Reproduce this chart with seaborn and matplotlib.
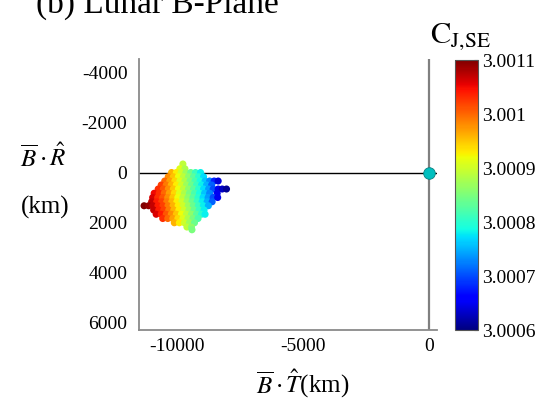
import numpy as np
import pandas as pd
import matplotlib
matplotlib.use('Agg')
import matplotlib.pyplot as plt
import seaborn as sns

# B-plane crossings (km) and Jacobi constant
row_br = [-340, -150, 0, 170, 340, 500, 660, 830, 1000, 1170, 1330, 1500, 1670, 1840, 2010, 2180, 2290]

row_bt = [
    [-9760],
    [-9880, -9680],
    [-10210, -10020, -9830, -9640, -9450, -9260, -9060],
    [-10340, -10140, -9940, -9740, -9540, -9340, -9140, -8940],
    [-10480, -10280, -10080, -9880, -9680, -9480, -9280, -9080, -8880, -8700, -8520, -8360],
    [-10620, -10420, -10220, -10020, -9820, -9620, -9420, -9220, -9020, -8820, -8620],
    [-10740, -10540, -10340, -10140, -9940, -9740, -9540, -9340, -9140, -8940, -8740, -8560, -8360, -8200, -8030],
    [-10900, -10700, -10500, -10300, -10100, -9900, -9700, -9500, -9300, -9100, -8900, -8700, -8400],
    [-10960, -10760, -10560, -10360, -10160, -9960, -9760, -9560, -9360, -9160, -8960, -8760, -8560, -8380],
    [-11000, -10800, -10600, -10400, -10200, -10000, -9800, -9600, -9400, -9200, -9000, -8800, -8600],
    [-11300, -11120, -10950, -10750, -10550, -10350, -10150, -9950, -9750, -9550, -9350, -9150, -8950, -8750],
    [-10920, -10720, -10520, -10320, -10120, -9920, -9720, -9520, -9320, -9120, -8920],
    [-10820, -10620, -10420, -10220, -10020, -9820, -9620, -9420, -9220, -9020, -8880],
    [-10560, -10360, -10160, -9960, -9760, -9560, -9360, -9160],
    [-10100, -9900, -9700, -9500, -9300],
    [-9600, -9420],
    [-9400],
]

row_cj = [
    [3.00089],
    [3.00091, 3.00088],
    [3.00096, 3.00093, 3.00090, 3.00087, 3.00084, 3.00081, 3.00078],
    [3.00098, 3.00095, 3.00092, 3.00089, 3.00086, 3.00083, 3.00080, 3.00077],
    [3.00100, 3.00097, 3.00094, 3.00091, 3.00088, 3.00085, 3.00082, 3.00079, 3.00076, 3.00073, 3.00068, 3.00064],
    [3.00102, 3.00099, 3.00096, 3.00093, 3.00090, 3.00087, 3.00084, 3.00081, 3.00078, 3.00075, 3.00071],
    [3.00103, 3.00101, 3.00098, 3.00095, 3.00092, 3.00089, 3.00086, 3.00083, 3.00080, 3.00077, 3.00074, 3.00070, 3.00065, 3.00063, 3.00061],
    [3.00105, 3.00103, 3.00100, 3.00097, 3.00094, 3.00091, 3.00088, 3.00085, 3.00082, 3.00079, 3.00076, 3.00073, 3.00065],
    [3.00106, 3.00103, 3.00101, 3.00098, 3.00095, 3.00092, 3.00089, 3.00086, 3.00083, 3.00080, 3.00077, 3.00074, 3.00070, 3.00065],
    [3.00107, 3.00104, 3.00102, 3.00099, 3.00096, 3.00093, 3.00090, 3.00087, 3.00084, 3.00081, 3.00078, 3.00075, 3.00071],
    [3.00110, 3.00109, 3.00107, 3.00104, 3.00102, 3.00099, 3.00096, 3.00093, 3.00090, 3.00087, 3.00084, 3.00081, 3.00078, 3.00075],
    [3.00107, 3.00104, 3.00102, 3.00099, 3.00096, 3.00093, 3.00090, 3.00087, 3.00084, 3.00081, 3.00078],
    [3.00106, 3.00104, 3.00101, 3.00098, 3.00095, 3.00092, 3.00089, 3.00086, 3.00083, 3.00080, 3.00078],
    [3.00103, 3.00100, 3.00097, 3.00094, 3.00091, 3.00088, 3.00085, 3.00082],
    [3.00096, 3.00093, 3.00090, 3.00087, 3.00084],
    [3.00089, 3.00086],
    [3.00085],
]

moon_bt = [0]
moon_br = [0]

cj_ticks = [3.0006, 3.0007, 3.0008, 3.0009, 3.001, 3.0011]
cj_labels = ['3.0006', '3.0007', '3.0008', '3.0009', '3.001', '3.0011']
x_ticks = [-10000, -5000, 0]
y_ticks = [-4000, -2000, 0, 2000, 4000, 6000]

rows = []
for br, bts, cjs in zip(row_br, row_bt, row_cj):
    for bt, cj in zip(bts, cjs):
        rows.append({'bt': bt, 'br': br, 'cj': cj})
df = pd.DataFrame(rows)

sns.set_style('white')
plt.rcParams['font.family'] = ['Liberation Serif', 'DejaVu Serif']
plt.rcParams['mathtext.fontset'] = 'stix'
plt.rcParams['axes.unicode_minus'] = False
plt.rcParams['text.color'] = 'black'

jet = matplotlib.colormaps['jet']
norm = plt.Normalize(3.0006, 3.0011)

fig = plt.figure(figsize=(5.39, 3.99), dpi=100)
ax = fig.add_axes([0.257, 0.1729, 0.5538, 0.6792])

ax.axhline(0, color='black', lw=1.0, zorder=1)
ax.axvline(0, color='#808080', lw=1.6, zorder=1)

sns.scatterplot(data=df, x='bt', y='br', hue='cj', palette=jet, hue_norm=norm,
                s=26, linewidth=0, legend=False, ax=ax, zorder=3)
ax.scatter(moon_bt, moon_br, s=70, color='#00BFBF', edgecolor='#0B8080', linewidth=0.6, zorder=4)

ax.set_xlim(-11520, 320)
ax.set_ylim(6300, -4540)
ax.set_xticks(x_ticks)
ax.set_yticks(y_ticks)
ax.set_xlabel('')
ax.set_ylabel('')
for side in ['top', 'right']:
    ax.spines[side].set_visible(False)
for side in ['left', 'bottom']:
    ax.spines[side].set_color('#8a8a8a')
    ax.spines[side].set_linewidth(1.3)
ax.tick_params(direction='in', length=3, color='#8a8a8a', labelsize=14, labelcolor='black')
ax.tick_params(axis='y', pad=8)
ax.tick_params(axis='x', pad=6)

cax = fig.add_axes([0.8445, 0.1729, 0.0427, 0.6767])
sm = plt.cm.ScalarMappable(norm=norm, cmap=jet)
cb = fig.colorbar(sm, cax=cax)
cb.set_ticks(cj_ticks)
cb.set_ticklabels(cj_labels)
cb.outline.set_edgecolor('#555555')
cb.outline.set_linewidth(0.8)
cax.tick_params(direction='in', length=3, color='#555555', labelsize=14, pad=3, labelcolor='black')

fig.text(0.0668, 1 - 13 / 399, '(b) Lunar B-Plane', fontsize=24, va='baseline', ha='left')
fig.text(0.798, 1 - 43 / 399, r'$\mathrm{C}_{\mathrm{J,\!SE}}$', fontsize=22, va='baseline', ha='left')
fig.text(303 / 539, 1 - 384 / 399, r'$\overline{B}\cdot\hat{T}$(km)', fontsize=18, ha='center', va='center')
fig.text(43 / 539, 1 - 157 / 399, r'$\overline{B}\cdot\hat{R}$', fontsize=18, ha='center', va='center')
fig.text(45 / 539, 1 - 207 / 399, '(km)', fontsize=18, ha='center', va='center')

fig.savefig('out.png', dpi=100)
